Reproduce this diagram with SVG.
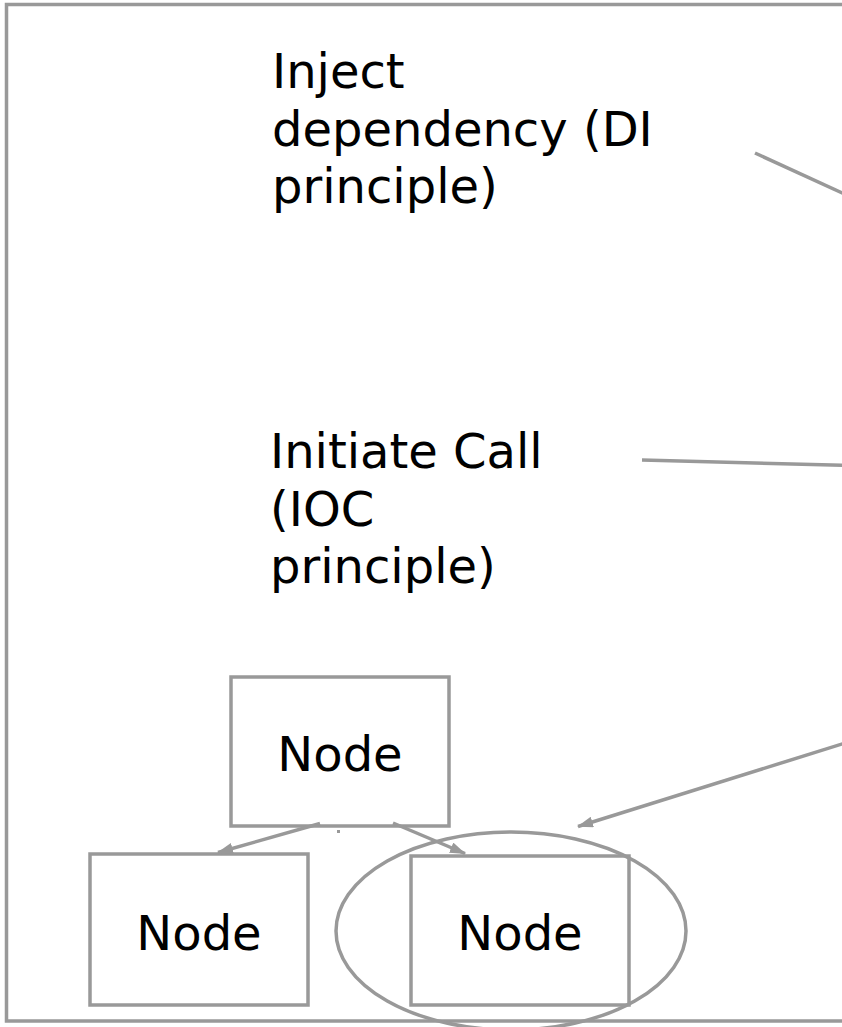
<svg xmlns="http://www.w3.org/2000/svg" width="842" height="1027" viewBox="0 0 842 1027">
  <defs>
    <style>
      .box { fill: #ffffff; stroke: #999999; stroke-width: 3.5; }
      .frame { fill: #ffffff; stroke: #999999; stroke-width: 3.5; }
      .edge { fill: none; stroke: #999999; stroke-width: 3.5; }
      .lbl { font-family: "DejaVu Sans", "Liberation Sans", sans-serif; font-size: 48px; fill: #000000; }
      .nodetxt { font-family: "DejaVu Sans", "Liberation Sans", sans-serif; font-size: 48px; fill: #000000; text-anchor: middle; }
    </style>
    <marker id="arrow" viewBox="0 0 16 11" refX="15" refY="5.5" markerWidth="16" markerHeight="11" markerUnits="userSpaceOnUse" orient="auto">
      <path d="M0,0 L16,5.5 L0,11 Z" fill="#999999"/>
    </marker>
  </defs>

  <rect id="frame" class="frame" x="6.5" y="4.5" width="900" height="1016.5"/>

  <g id="label-di">
    <text class="lbl" x="272" y="88">Inject</text>
    <text class="lbl" x="272" y="145.5">dependency (DI</text>
    <text class="lbl" x="272" y="203">principle)</text>
  </g>

  <g id="label-ioc">
    <text class="lbl" x="270" y="468">Initiate Call</text>
    <text class="lbl" x="270" y="525.5">(IOC</text>
    <text class="lbl" x="270" y="583">principle)</text>
  </g>

  <g id="node-top">
    <rect class="box" x="231" y="677" width="218" height="149"/>
    <text class="nodetxt" x="340" y="771">Node</text>
  </g>

  <g id="node-left">
    <rect class="box" x="90" y="854" width="218" height="151"/>
    <text class="nodetxt" x="199" y="950">Node</text>
  </g>

  <g id="node-right">
    <rect class="box" x="411" y="856" width="218" height="149"/>
    <text class="nodetxt" x="520" y="950">Node</text>
  </g>

  <g id="highlight">
    <ellipse class="edge" cx="511" cy="931" rx="175" ry="99"/>
  </g>

  <g id="connectors">
    <line class="edge" x1="755" y1="153" x2="850" y2="196.5"/>
    <line class="edge" x1="642" y1="460" x2="850" y2="465.5"/>
    <line class="edge" x1="850" y1="741.5" x2="578" y2="826.5" marker-end="url(#arrow)"/>
    <line class="edge" x1="320" y1="823.5" x2="218" y2="852.5" marker-end="url(#arrow)"/>
    <line class="edge" x1="393" y1="823" x2="465" y2="853.5" marker-end="url(#arrow)"/>
    <rect x="337" y="830" width="3" height="3" fill="#999999"/>
  </g>
</svg>
